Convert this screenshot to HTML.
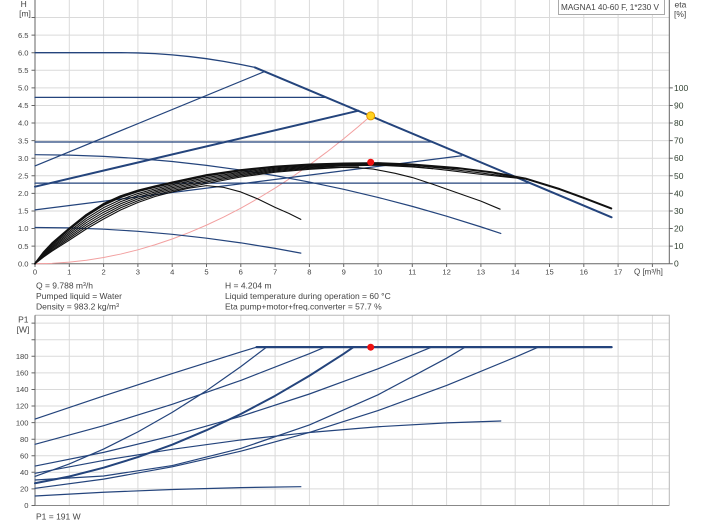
<!DOCTYPE html>
<html><head><meta charset="utf-8"><style>html,body{margin:0;padding:0;background:#fff}svg{display:block}</style></head><body>
<svg width="704" height="528" viewBox="0 0 704 528" xmlns="http://www.w3.org/2000/svg" font-family="'Liberation Sans', Arial, sans-serif">
<rect width="704" height="528" fill="#fff"/>
<!-- TOP GRID -->
<path fill="none" stroke="#dadada" stroke-width="1" d="M69.3 0V263.7M103.6 0V263.7M137.9 0V263.7M172.2 0V263.7M206.5 0V263.7M240.8 0V263.7M275.1 0V263.7M309.4 0V263.7M343.7 0V263.7M378 0V263.7M412.3 0V263.7M446.6 0V263.7M480.9 0V263.7M515.2 0V263.7M549.5 0V263.7M583.8 0V263.7M618.1 0V263.7M652.4 0V263.7M35 246.1H669.3M35 228.5H669.3M35 211H669.3M35 193.4H669.3M35 175.8H669.3M35 158.2H669.3M35 140.6H669.3M35 123H669.3M35 105.5H669.3M35 87.9H669.3M35 70.3H669.3M35 52.7H669.3M35 35.1H669.3M35 17.5H669.3"/>
<!-- TOP AXES -->
<path fill="none" stroke="#666" stroke-width="1" d="M35 0V263.7H669.3M669.3 0V263.7"/>
<path fill="none" stroke="#666" stroke-width="1" d="M31.5 263.7H35M31.5 246.1H35M31.5 228.5H35M31.5 211H35M31.5 193.4H35M31.5 175.8H35M31.5 158.2H35M31.5 140.6H35M31.5 123H35M31.5 105.5H35M31.5 87.9H35M31.5 70.3H35M31.5 52.7H35M31.5 35.1H35M31.5 17.5H35
M669.3 263.7H672.8M669.3 246.1H672.8M669.3 228.5H672.8M669.3 211H672.8M669.3 193.4H672.8M669.3 175.8H672.8M669.3 158.2H672.8M669.3 140.6H672.8M669.3 123H672.8M669.3 105.5H672.8M669.3 87.9H672.8
M35 263.7V267M69.3 263.7V267M103.6 263.7V267M137.9 263.7V267M172.2 263.7V267M206.5 263.7V267M240.8 263.7V267M275.1 263.7V267M309.4 263.7V267M343.7 263.7V267M378 263.7V267M412.3 263.7V267M446.6 263.7V267M480.9 263.7V267M515.2 263.7V267M549.5 263.7V267M583.8 263.7V267M618.1 263.7V267M652.4 263.7V267"/>
<!-- TOP LABELS -->
<g fill="#444" font-size="7.6" text-anchor="end">
<text x="28.5" y="266.4">0.0</text><text x="28.5" y="248.8">0.5</text><text x="28.5" y="231.2">1.0</text><text x="28.5" y="213.7">1.5</text><text x="28.5" y="196.1">2.0</text><text x="28.5" y="178.5">2.5</text><text x="28.5" y="160.9">3.0</text><text x="28.5" y="143.3">3.5</text><text x="28.5" y="125.7">4.0</text><text x="28.5" y="108.2">4.5</text><text x="28.5" y="90.6">5.0</text><text x="28.5" y="73">5.5</text><text x="28.5" y="55.4">6.0</text><text x="28.5" y="37.8">6.5</text>
</g>
<g fill="#444" font-size="7.6" text-anchor="middle">
<text x="35" y="274.5">0</text><text x="69.3" y="274.5">1</text><text x="103.6" y="274.5">2</text><text x="137.9" y="274.5">3</text><text x="172.2" y="274.5">4</text><text x="206.5" y="274.5">5</text><text x="240.8" y="274.5">6</text><text x="275.1" y="274.5">7</text><text x="309.4" y="274.5">8</text><text x="343.7" y="274.5">9</text><text x="378" y="274.5">10</text><text x="412.3" y="274.5">11</text><text x="446.6" y="274.5">12</text><text x="480.9" y="274.5">13</text><text x="515.2" y="274.5">14</text><text x="549.5" y="274.5">15</text><text x="583.8" y="274.5">16</text><text x="618.1" y="274.5">17</text>
</g>
<text x="634" y="274.5" fill="#444" font-size="8">Q [m³/h]</text>
<g fill="#2f3f2f" font-size="8.5">
<text x="674" y="266.7">0</text><text x="674" y="249.1">10</text><text x="674" y="231.5">20</text><text x="674" y="214">30</text><text x="674" y="196.4">40</text><text x="674" y="178.8">50</text><text x="674" y="161.2">60</text><text x="674" y="143.6">70</text><text x="674" y="126">80</text><text x="674" y="108.5">90</text><text x="674" y="90.9">100</text>
</g>
<text x="23.7" y="7" fill="#444" font-size="8.5" text-anchor="middle">H</text>
<text x="25" y="16.5" fill="#444" font-size="8.5" text-anchor="middle">[m]</text>
<text x="674.5" y="7.5" fill="#444" font-size="8.5">eta</text>
<text x="674" y="17" fill="#444" font-size="8.5">[%]</text>
<rect x="558.5" y="-0.5" width="106" height="15" fill="#fff" stroke="#aaa" stroke-width="1"/>
<text x="561" y="10" fill="#444" font-size="8.5" textLength="98" lengthAdjust="spacingAndGlyphs">MAGNA1 40-60 F, 1*230 V</text>

<!-- TOP CURVES -->
<g transform="matrix(34.3 0 0 -35.17 35 263.7)" fill="none" stroke-linejoin="round" stroke-linecap="round">
<polyline vector-effect="non-scaling-stroke" stroke="#f2a0a0" stroke-width="1" points="0,0 0.5,0.011 1,0.044 1.5,0.099 2,0.176 2.5,0.274 3,0.395 3.5,0.538 4,0.702 4.5,0.889 5,1.097 5.5,1.327 6,1.58 6.5,1.854 7,2.15 7.5,2.468 8,2.808 8.5,3.17 9,3.554 9.4,3.877 9.788,4.204"/>
<g stroke="#24447c" vector-effect="non-scaling-stroke">
<polyline vector-effect="non-scaling-stroke" stroke-width="1.3" points="0,6 2.5,6 3,5.993 3.5,5.973 4,5.938 4.5,5.89 5,5.829 5.5,5.753 6,5.664 6.41,5.581"/>
<polyline vector-effect="non-scaling-stroke" stroke-width="2" points="6.41,5.581 16.81,1.32"/>
<polyline vector-effect="non-scaling-stroke" stroke-width="1.2" points="0,2.78 6.71,5.47"/>
<polyline vector-effect="non-scaling-stroke" stroke-width="2" points="0,2.19 9.43,4.35"/>
<polyline vector-effect="non-scaling-stroke" stroke-width="1.2" points="0,1.53 12.44,3.07"/>
<polyline vector-effect="non-scaling-stroke" stroke-width="1.3" points="0,4.73 8.49,4.73"/>
<polyline vector-effect="non-scaling-stroke" stroke-width="1.3" points="0,3.46 11.59,3.46"/>
<polyline vector-effect="non-scaling-stroke" stroke-width="1.3" points="0,2.29 14.44,2.29"/>
<polyline vector-effect="non-scaling-stroke" stroke-width="1.2" points="0,3.1 1,3.088 2,3.051 3,2.991 4,2.906 5,2.796 6,2.663 7,2.505 8,2.322 9,2.116 10,1.885 11,1.63 12,1.35 13,1.047 13.58,0.859"/>
<polyline vector-effect="non-scaling-stroke" stroke-width="1.2" points="0,1.03 1,1.018 2,0.981 3,0.921 4,0.836 5,0.726 6,0.593 7,0.435 7.75,0.3"/>
</g>
<g stroke="#111">
<polyline vector-effect="non-scaling-stroke" stroke-width="1.1" points="0,0 0.25,0.19 0.5,0.36 1,0.67 1.5,0.99 2,1.27 2.5,1.53 3,1.74 3.5,1.91 4,2.04 4.5,2.15 5,2.22 5.5,2.17 6,2.04 6.5,1.84 7,1.6 7.4,1.43 7.75,1.26"/>
<polyline vector-effect="non-scaling-stroke" stroke-width="1.1" points="0,0 0.25,0.21 0.5,0.39 1,0.72 1.5,1.05 2,1.335 2.5,1.59 3,1.79 3.5,1.954 4,2.08 5,2.28 6,2.465 7,2.6 8,2.684 9,2.74 9.43,2.75"/>
<polyline vector-effect="non-scaling-stroke" stroke-width="1.1" points="0,0 0.25,0.229 0.5,0.426 1,0.769 1.5,1.11 2,1.4 2.5,1.647 3,1.842 3.5,1.997 4,2.121 5,2.324 6,2.5 7,2.627 8,2.708 8.8,2.74 9.4,2.73 9.86,2.69 10.5,2.57 11,2.45 11.6,2.26 12.5,1.95 13,1.78 13.56,1.55"/>
<polyline vector-effect="non-scaling-stroke" stroke-width="1.1" points="0,0 0.25,0.249 0.5,0.459 1,0.819 1.5,1.17 2,1.464 2.5,1.706 3,1.893 3.5,2.041 4,2.162 5,2.366 6,2.534 7,2.656 8,2.732 9,2.779 10,2.8 11,2.75 11.59,2.7"/>
<polyline vector-effect="non-scaling-stroke" stroke-width="1.1" points="0,0 0.25,0.268 0.5,0.492 1,0.868 1.5,1.23 2,1.528 2.5,1.764 3,1.944 3.5,2.084 4,2.202 5,2.408 6,2.568 7,2.684 8,2.756 9,2.798 10,2.816 11,2.77 12,2.66 13,2.54 14.38,2.4"/>
<polyline vector-effect="non-scaling-stroke" stroke-width="1.1" points="0,0 0.25,0.288 0.5,0.525 1,0.918 1.5,1.29 2,1.593 2.5,1.823 3,1.995 3.5,2.128 4,2.243 5,2.45 6,2.603 7,2.713 8,2.78 9,2.818 10,2.833 11,2.8 12.44,2.69"/>
<polyline vector-effect="non-scaling-stroke" stroke-width="1.1" points="0,0 0.25,0.307 0.5,0.558 1,0.967 1.5,1.35 2,1.657 2.5,1.881 3,2.046 3.5,2.171 4,2.283 5,2.492 6,2.637 7,2.741 8,2.804 9,2.837 10,2.849 11,2.8 12,2.7 13,2.58 14.38,2.4"/>
<polyline vector-effect="non-scaling-stroke" stroke-width="2" points="0,0 0.25,0.32 0.5,0.58 1,1 1.5,1.39 2,1.7 2.5,1.92 3,2.08 3.5,2.2 4,2.31 5,2.52 6,2.66 7,2.76 8,2.82 9,2.85 10,2.86 11,2.82 12.3,2.72 13.3,2.6 14.3,2.42 15.3,2.12 16,1.87 16.8,1.57"/>
</g>
</g>
<circle cx="370.7" cy="115.9" r="4" fill="#ffd21f" stroke="#e39a00" stroke-width="1"/>
<circle cx="370.7" cy="162.2" r="3.5" fill="#ee1111"/>

<!-- TEXT BLOCK -->
<g fill="#444" font-size="8.5">
<text x="36" y="288.3">Q = 9.788 m³/h</text>
<text x="36" y="299">Pumped liquid = Water</text>
<text x="36" y="309.5">Density = 983.2 kg/m³</text>
<text x="225" y="288.3">H = 4.204 m</text>
<text x="225" y="299">Liquid temperature during operation = 60 °C</text>
<text x="225" y="309.5">Eta pump+motor+freq.converter = 57.7 %</text>
<text x="36" y="519.3">P1 = 191 W</text>
</g>

<!-- BOTTOM GRID -->
<path fill="none" stroke="#dadada" stroke-width="1" d="M69.3 315.3V505.5M103.6 315.3V505.5M137.9 315.3V505.5M172.2 315.3V505.5M206.5 315.3V505.5M240.8 315.3V505.5M275.1 315.3V505.5M309.4 315.3V505.5M343.7 315.3V505.5M378 315.3V505.5M412.3 315.3V505.5M446.6 315.3V505.5M480.9 315.3V505.5M515.2 315.3V505.5M549.5 315.3V505.5M583.8 315.3V505.5M618.1 315.3V505.5M652.4 315.3V505.5M35 488.9H669.3M35 472.3H669.3M35 455.8H669.3M35 439.2H669.3M35 422.6H669.3M35 406H669.3M35 389.5H669.3M35 372.9H669.3M35 356.3H669.3M35 339.7H669.3M35 323.1H669.3"/>
<path fill="none" stroke="#b8b8b8" stroke-width="1" d="M35 315.3H669.3V505.5"/>
<path fill="none" stroke="#888" stroke-width="1" d="M35 505.5H669.3"/>
<path fill="none" stroke="#666" stroke-width="1" d="M35 315.3V505.5M31.5 505.5H35M31.5 488.9H35M31.5 472.3H35M31.5 455.8H35M31.5 439.2H35M31.5 422.6H35M31.5 406H35M31.5 389.5H35M31.5 372.9H35M31.5 356.3H35M31.5 339.7H35M31.5 323.1H35"/>
<g fill="#444" font-size="7.6" text-anchor="end">
<text x="28.5" y="508.2">0</text><text x="28.5" y="491.6">20</text><text x="28.5" y="475">40</text><text x="28.5" y="458.5">60</text><text x="28.5" y="441.9">80</text><text x="28.5" y="425.3">100</text><text x="28.5" y="408.7">120</text><text x="28.5" y="392.2">140</text><text x="28.5" y="375.6">160</text><text x="28.5" y="359">180</text>
</g>
<text x="23.3" y="322.5" fill="#444" font-size="8.5" text-anchor="middle">P1</text>
<text x="23" y="332.3" fill="#444" font-size="8.5" text-anchor="middle">[W]</text>

<!-- BOTTOM CURVES -->
<g transform="matrix(34.3 0 0 -0.829 35 505.5)" fill="none" stroke="#24447c" stroke-linejoin="round" stroke-linecap="round">
<polyline vector-effect="non-scaling-stroke" stroke-width="1.2" points="0,104.3 2,132.1 4,159.1 6,185.2 6.46,191"/>
<polyline vector-effect="non-scaling-stroke" stroke-width="1.2" points="0,73.8 2,96.3 4,122 6,150.9 8,183.1 8.45,191"/>
<polyline vector-effect="non-scaling-stroke" stroke-width="1.2" points="0,35 1,50.16 2,68.1 3,88.8 4,112.3 5,138.5 6,167.5 6.75,191"/>
<polyline vector-effect="non-scaling-stroke" stroke-width="2" points="0,26.8 1,35 2,45.6 3,58.4 4,73.4 5,90.8 6,110.4 7,132.3 8,156.5 9,183 9.28,191"/>
<polyline vector-effect="non-scaling-stroke" stroke-width="1.2" points="0,47.6 2,64.1 4,84.1 6,107.6 8,134.5 10,164.9 11.56,191"/>
<polyline vector-effect="non-scaling-stroke" stroke-width="1.2" points="0,38.8 2,54.4 4,67.8 6,79.05 8,88.1 10,95 12,99.7 13.58,101.9"/>
<polyline vector-effect="non-scaling-stroke" stroke-width="1.2" points="0,30.8 2,35.6 4,48.2 6,68.8 8,97.2 10,133.5 12,177.7 12.54,191"/>
<polyline vector-effect="non-scaling-stroke" stroke-width="1.2" points="0,20.7 2,31.8 4,46.7 6,65.5 8,88.1 10,114.5 12,144.8 14,178.9 14.67,191"/>
<polyline vector-effect="non-scaling-stroke" stroke-width="1.2" points="0,11.5 2,15.96 4,19.3 6,21.6 7.75,22.7"/>
<polyline vector-effect="non-scaling-stroke" stroke-width="2.2" points="6.46,191 16.81,191"/>
</g>
<circle cx="370.7" cy="347.2" r="3.5" fill="#ee1111"/>
</svg>
</body></html>
